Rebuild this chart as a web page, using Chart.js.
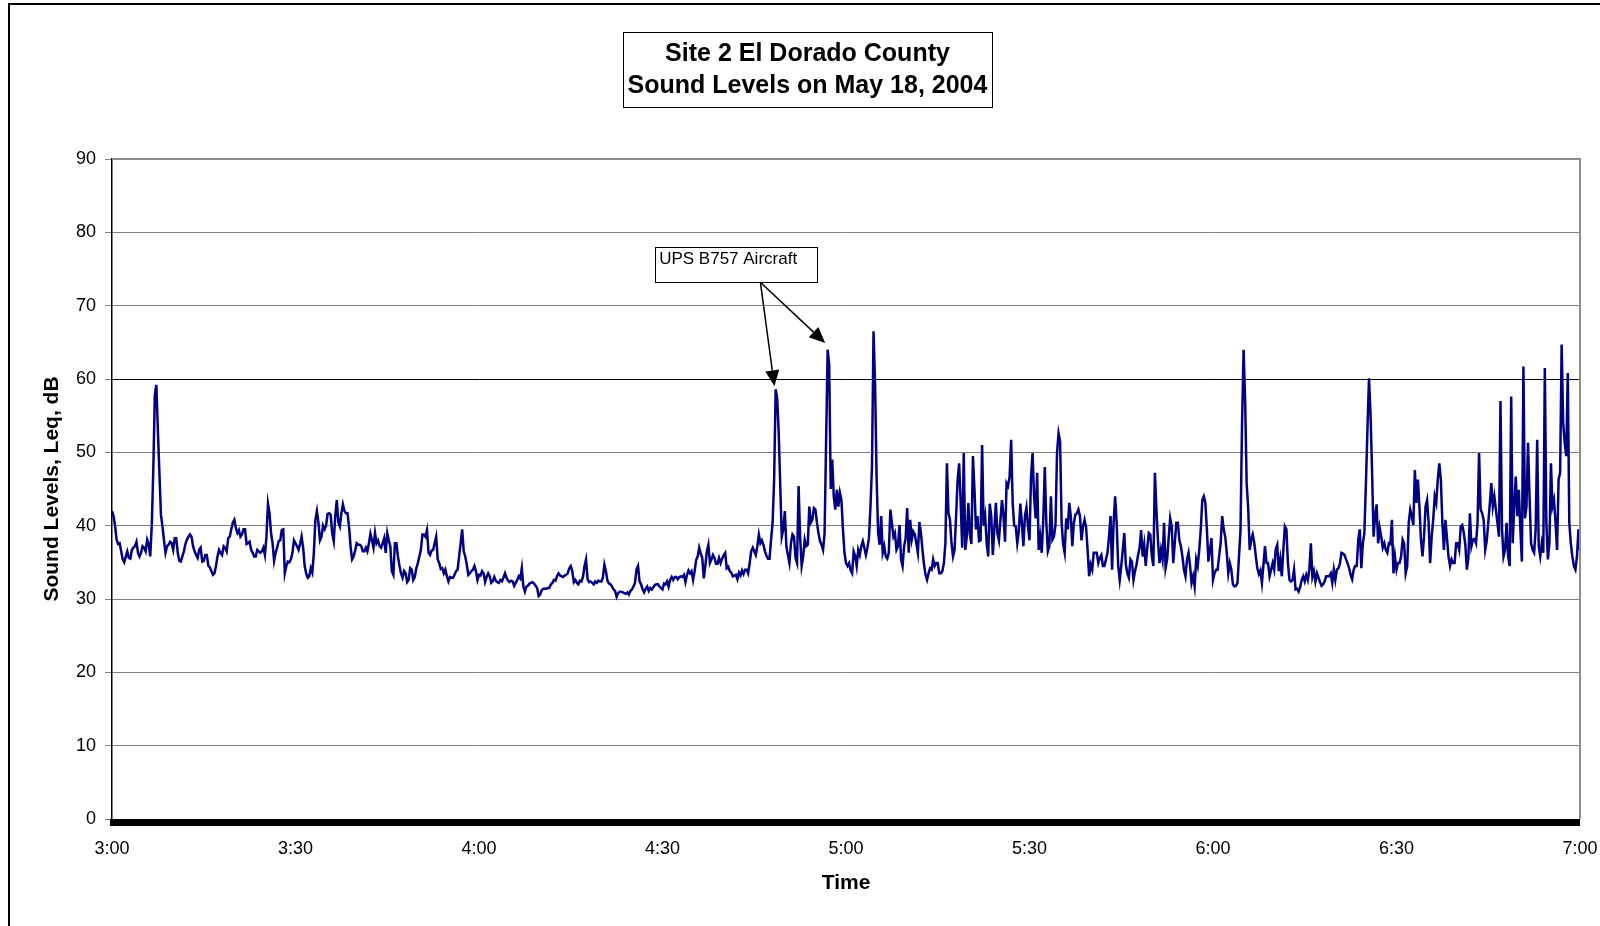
<!DOCTYPE html>
<html>
<head>
<meta charset="utf-8">
<title>Site 2 El Dorado County</title>
<script src="https://cdn.jsdelivr.net/npm/chart.js@4.4.1/dist/chart.umd.min.js"></script>
<style>
  html, body { margin: 0; padding: 0; background: #fff; }
  canvas { display: block; }
</style>
</head>
<body>
<canvas id="soundChart" width="1600" height="926"></canvas>
<script>
// Leq, dB - one sample every 15 s from 3:00 to 7:00, four per row (one minute)
const levels = [
  42, 41.3, 40, 38.1,   37.5, 37.6, 36.5, 35.4,   35, 35.8, 36.5, 35.6,   35.5, 36.7, 37, 37.2,
  37.8, 36.3, 35.8, 36.3,   37.2, 37, 36.5, 38.1,   37.5, 35.8, 40, 47.6,   57.8, 59.2, 53, 47.2,
  41.5, 39.9, 38, 36.3,   37.2, 37.4, 37.8, 37.6,   36.7, 38.3, 38.3, 36.3,   35.2, 35.1, 35.8, 36.5,
  37.5, 38.1, 38.5, 38.8,   38.5, 37.2, 36.5, 36,   35.6, 36.7, 37, 35.1,   35.2, 36, 36, 34.5,
  34.3, 33.8, 33.3, 33.5,   34.5, 35.8, 36.7, 36.3,   36, 37.2, 37, 36.5,   38.3, 38.5, 39.5, 40.4,
  40.8, 39.7, 39, 39.4,   38.5, 38.8, 39.5, 39.5,   37.5, 37.6, 37.8, 36.7,   36.3, 35.8, 35.8, 36.7,
  36.5, 36.3, 36.5, 37,   36, 38.5, 43, 41.7,   39, 37.6, 35.2, 36.3,   37, 37.9, 38, 39.4,
  39.5, 33.5, 34.5, 35.1,   35, 35.4, 36.3, 38,
  // 3:30
  37.6, 37.2, 36.7, 37.5,   38.5, 37, 34.5, 33.5,   32.9, 33.1, 34.2, 33.6,   36.3, 40.8, 42, 40.4,
  38, 38.5, 40, 39.5,   40, 41.6, 41.7, 41.5,   39, 37.9, 41.3, 43.5,   40.5, 39.9, 41.7, 42.9,
  42, 41.7, 41.7, 39.9,   37.2, 35.4, 35.8, 36.6,   37.6, 37.4, 37.4, 37.2,   36.5, 36.5, 37, 36.5,
  37.6, 38.9, 38, 37,   39, 37.6, 38, 37.2,   37, 37.6, 38.3, 36.3,   39, 38, 37.2, 33.8,
  33.3, 37.6, 37.6, 35.8,   34.5, 33.5, 32.9, 33.8,   33.5, 32.3, 32.6, 34.2,   34, 32.6, 33, 34.2,
  34.9, 35.8, 36.7, 38.8,   38.8, 38.5, 39.4, 36.3,   36, 36.6, 36.7, 37.6,   38.5, 35.4, 34.9, 34.1,
  34.2, 33.5, 34, 33.1,   32.4, 33, 32.9, 32.9,   33.3, 33.8, 34, 35.8,   37.6, 39.5, 36.5, 35.8,
  34.7, 33.3, 33.5, 33.8,   34, 34.5, 33.8, 32.6,
  // 4:00
  33.3, 33.2, 33.8, 33.5,   32.3, 33, 33.5, 33.1,   32.2, 32.4, 33, 32.5,   32.3, 32.2, 32.6, 32.4,
  32.9, 33.5, 32.9, 32.5,   32.3, 32.5, 32.4, 31.8,   32.2, 32.6, 33.1, 32.8,   34.2, 31.7, 31, 31.7,
  31.8, 32.1, 32.2, 32.3,   32.1, 31.8, 31.5, 30.4,   30.6, 31.2, 31.4, 31.4,   31.4, 31.5, 31.5, 32,
  32.2, 32.6, 32.5, 33.1,   33.5, 33.2, 33.1, 33,   33.2, 33.3, 33.5, 34.2,   34.5, 33.8, 32.3, 32.6,
  32.2, 32, 32.5, 32.4,   33, 34.5, 35.4, 32.7,   32.3, 32.4, 32.2, 32,   32.4, 32.2, 32.5, 32.4,
  32.4, 32.9, 34.7, 33.8,   32.5, 32.1, 32, 31.7,   31.3, 31.1, 30.3, 30.8,   31, 31, 30.9, 30.8,
  30.7, 30.9, 30.6, 31.1,   31.3, 31.7, 32.2, 34,   34.5, 32.4, 32, 31.3,   30.9, 31.4, 31.7, 31.1,
  31.5, 31.3, 31.6, 31.9,   32, 32, 31.7, 31.5,
  // 4:30
  31.3, 32.1, 32, 32.4,   31.7, 32.6, 33, 32.6,   33, 33, 32.7, 33,   33.1, 33, 33.3, 32.3,
  33.3, 33.9, 33.5, 33.8,   32.6, 33.8, 35.3, 35.8,   37, 36.2, 35.6, 32.8,   34.5, 36.5, 37.4, 34.9,
  35.4, 36, 35.6, 34.8,   34.8, 35.6, 34.9, 35.5,   36, 36.3, 34.2, 34.4,   33.8, 33.6, 33.1, 33.2,
  33.3, 32.7, 33.6, 33.2,   33.9, 33.4, 34, 34,   33.5, 34.9, 36.5, 37,   36.5, 36, 37.2, 38.8,
  37.6, 38, 37.4, 36.5,   35.9, 35.5, 35.5, 38.1,   40.4, 46.3, 58.6, 57.4,   52.6, 45.4, 38.5, 39.5,
  42, 37.2, 36, 34.9,   37.6, 38.8, 38.5, 35.6,   34.9, 45.4, 38.5, 34.5,   35.8, 38.1, 37.2, 37.4,
  42.6, 40.4, 40.8, 42.4,   42.2, 40.4, 39, 37.9,   37.4, 36.7, 39, 51.7,   64, 62, 45, 49,
  44, 42.2, 44.9, 42.6,   44.5, 43.5, 39.5, 36.3,
  // 5:00
  34.9, 34.5, 34.9, 33.9,   33.5, 36.5, 35.9, 34.5,   36.7, 36, 37.2, 37.9,   37, 36, 37, 38.3,
  42.6, 48.1, 66.5, 59.5,   46.7, 39, 37.4, 41.3,   36.3, 37.2, 35.8, 35.5,   36.3, 42.2, 40.4, 38.5,
  39, 36.7, 37.2, 40.1,   35.4, 34.5, 37.2, 38.3,   42.4, 36.3, 40.8, 38.1,   39.2, 38.8, 37.6, 36.3,
  40.5, 39, 36.7, 34.7,   33.3, 32.6, 33.5, 34.2,   34, 35.4, 34.5, 34.9,   34.9, 33.5, 33.5, 33.8,
  34.9, 37.6, 48.5, 41.7,   40.8, 37.6, 35.8, 36.7,   41.3, 46.3, 48.5, 43.1,   37, 49.9, 36.7, 38.5,
  43.1, 38.8, 37.5, 49.5,   45, 39.5, 41.3, 37.9,   38, 51, 40, 41.3,   37.6, 35.8, 43, 41.3,
  36, 39.5, 43.1, 39,   38, 40.8, 43.5, 41.3,   37.8, 45.8, 45.4, 46.7,   51.7, 43.1, 40, 39.9,
  37.6, 39.2, 43, 40.4,   37.2, 41.3, 42.5, 39.9,
  // 5:30
  38, 46.7, 49.9, 44,   41, 47.2, 36.7, 38.5,   36.3, 40.8, 48, 40.4,   36.5, 37.2, 44, 38.1,
  38.5, 40.1, 49.9, 52.6,   51.5, 40.4, 37.5, 36.3,   41, 39.5, 43.1, 41.3,   37.2, 40.4, 41.5, 41.7,
  42.2, 41.3, 38, 39.9,   40.8, 39.8, 36.7, 33.1,   34.7, 34, 36.3, 36.3,   36.3, 34.9, 35.6, 36,
  34.5, 34.5, 35.4, 36.3,   38.5, 41.3, 34, 40.4,   44, 40.4, 34.5, 32.6,   34.5, 36.7, 39, 34.7,
  33.5, 32.9, 35.4, 35.1,   32.6, 33.8, 34.7, 36,   37, 39.4, 35.8, 37.4,   34.5, 37, 39, 38.8,
  35.8, 34.5, 47.2, 42.2,   38, 34.9, 36.7, 35.4,   40.4, 34.2, 35.4, 38.3,   41, 39.9, 34.9, 37.6,
  40.4, 40.4, 38, 37.2,   35.8, 34, 33.1, 35.4,   36.3, 34.5, 32.2, 33.1,   31.7, 35.4, 34.5, 36.7,
  39.5, 43.5, 44, 43.1,   39.5, 35.1, 36.7, 38.3,
  // 6:00
  32.6, 33.5, 34, 34,   35.8, 37.6, 41.3, 39.5,   38.5, 36.3, 33.5, 34.9,   34, 32, 31.7, 31.8,
  32.2, 35.8, 39.5, 54,   64, 57.2, 45.8, 42.4,   36.7, 38.1, 38.8, 37.6,   35.8, 34.2, 33.4, 33.9,
  32.2, 34.7, 37.2, 34.9,   34.9, 33.1, 34, 34.9,   34, 36.8, 37.4, 33.8,   35.4, 33.1, 36.7, 39.9,
  39.5, 34.9, 32.6, 32.4,   32.6, 34, 31.3, 31.4,   31, 31.6, 32.6, 33.1,   32.4, 33.3, 32.6, 34,
  37.6, 33, 33.8, 32.4,   33.5, 32.9, 32.3, 31.8,   32, 32.4, 33.1, 33.1,   33.1, 33.5, 32.2, 34,
  32.6, 34, 34.2, 34.8,   36.3, 36.2, 36, 35.4,   34.9, 34.2, 33.3, 32.7,   34, 34.5, 34.5, 38.1,
  39.5, 34.2, 37.6, 39,   45.8, 53.1, 60.1, 55.4,   47.6, 38.5, 41.3, 42.9,   37.6, 39.7, 38.5, 37,
  37.6, 36.7, 36.3, 37.6,   37.5, 40.8, 33.5, 35.8,
  // 6:30
  34, 34.9, 34.9, 35.8,   38.1, 37.6, 33.5, 34.5,   40.4, 42.2, 41.3, 40.1,   47.6, 43.1, 46.3, 42.6,
  38.1, 35.8, 38.5, 42.6,   43.5, 40.4, 34.9, 38.5,   40.8, 44, 43.1, 46.3,   48.5, 46.3, 40.4, 36.7,
  40.8, 38.3, 35.8, 34.5,   35.4, 34.9, 34.9, 37.6,   37.6, 36.7, 39.9, 40.1,   39, 37.4, 34, 35.6,
  41.7, 37.2, 38.1, 38.2,   37.6, 40.4, 49.9, 42.2,   41.7, 40.8, 36.7, 37.9,   40.4, 42.9, 45.8, 42.6,
  44, 42.2, 40.4, 38.5,   57, 39.5, 35.8, 36.7,   40.4, 35.8, 34.5, 57.6,   37.6, 42.6, 46.7, 41.3,
  44.9, 39.5, 35.1, 61.7,   41, 42.6, 51.3, 44,   37.6, 36.7, 36.3, 39.5,   51.7, 37.2, 35.8, 37.6,
  36.3, 61.5, 40.4, 35.4,   37.6, 48.5, 42.6, 43.5,   40.4, 36.7, 46.3, 47.2,   64.7, 54, 51.3, 49.5,
  60.8, 40.4, 37.6, 35.8,   34.5, 34, 35.8, 39.5,
  // 7:00
  36.7
];
const sampleMinutes = 0.25;
const timeLabels = ['3:00', '3:30', '4:00', '4:30', '5:00', '5:30', '6:00', '6:30', '7:00'];
const titleLines = ['Site 2 El Dorado County', 'Sound Levels on May 18, 2004'];

// callout: box corners in (minutes after 3:00, dB), arrows from the box to the two flyovers
const noteText = 'UPS B757 Aircraft';
const noteBox = { from: 88.8, to: 115.3, top: 78, bottom: 73.2 };
const noteArrowStart = [106, 73.2];
const noteTargets = [[108.3, 59], [116.6, 64.9]];

const FONT = '"Liberation Sans", Arial, sans-serif';

function arrow(ctx, x0, y0, x1, y1) {
  const ang = Math.atan2(y1 - y0, x1 - x0);
  const len = 16, half = 7;
  const bx = x1 - len * Math.cos(ang), by = y1 - len * Math.sin(ang);
  ctx.beginPath();
  ctx.moveTo(x0, y0);
  ctx.lineTo(bx, by);
  ctx.stroke();
  ctx.beginPath();
  ctx.moveTo(x1, y1);
  ctx.lineTo(bx + half * Math.sin(ang), by - half * Math.cos(ang));
  ctx.lineTo(bx - half * Math.sin(ang), by + half * Math.cos(ang));
  ctx.closePath();
  ctx.fill();
}

const decor = {
  id: 'decor',
  beforeDraw(chart) {
    const ctx = chart.ctx;
    ctx.save();
    ctx.fillStyle = '#fff';
    ctx.fillRect(0, 0, chart.width, chart.height);

    // outer chart frame, only left and top edges fall inside the page
    ctx.strokeStyle = '#000';
    ctx.lineWidth = 2;
    ctx.beginPath();
    ctx.moveTo(9, chart.height);
    ctx.lineTo(9, 4);
    ctx.lineTo(chart.width, 4);
    ctx.stroke();

    // boxed title
    ctx.font = 'bold 25px ' + FONT;
    const w = Math.max(...titleLines.map(t => ctx.measureText(t).width)) + 9;
    const cx = 807.5;
    ctx.lineWidth = 1;
    ctx.strokeRect(Math.round(cx - w / 2) + 0.5, 32.5, Math.round(w), 75);
    ctx.fillStyle = '#000';
    ctx.textAlign = 'center';
    ctx.textBaseline = 'middle';
    titleLines.forEach((t, i) => ctx.fillText(t, cx, 54 + i * 32));
    ctx.restore();
  },
  afterDraw(chart) {
    const { ctx, chartArea: a, scales: { x, y } } = chart;
    ctx.save();

    // plot area border, top and right
    ctx.strokeStyle = '#8c8c8c';
    ctx.lineWidth = 2;
    ctx.beginPath();
    ctx.moveTo(a.left, a.top);
    ctx.lineTo(a.right, a.top);
    ctx.lineTo(a.right, a.bottom);
    ctx.stroke();

    // heavy base line along 0 dB
    ctx.fillStyle = '#000';
    ctx.fillRect(a.left - 2, a.bottom, a.right - a.left + 2, 7);

    // callout box
    const l = x.getPixelForValue(noteBox.from), r = x.getPixelForValue(noteBox.to);
    const t = y.getPixelForValue(noteBox.top), b = y.getPixelForValue(noteBox.bottom);
    ctx.fillStyle = '#fff';
    ctx.fillRect(l, t, r - l, b - t);
    ctx.strokeStyle = '#000';
    ctx.lineWidth = 1;
    ctx.strokeRect(Math.round(l) + 0.5, Math.round(t) + 0.5, Math.round(r - l), Math.round(b - t));
    ctx.fillStyle = '#000';
    ctx.font = '17px ' + FONT;
    ctx.textAlign = 'left';
    ctx.textBaseline = 'middle';
    ctx.fillText(noteText, l + 4, t + 12);

    ctx.lineWidth = 1.5;
    const sx = x.getPixelForValue(noteArrowStart[0]), sy = y.getPixelForValue(noteArrowStart[1]);
    noteTargets.forEach(([m, db]) => {
      arrow(ctx, sx, sy, x.getPixelForValue(m), y.getPixelForValue(db));
    });
    ctx.restore();
  }
};

const points = levels.map((v, i) => ({ x: i * sampleMinutes, y: v }));

new Chart(document.getElementById('soundChart'), {
  type: 'line',
  data: {
    datasets: [{
      label: 'Leq',
      data: points,
      borderColor: '#000080',
      borderWidth: 2.5,
      pointRadius: 0,
      tension: 0,
      fill: false
    }]
  },
  options: {
    responsive: false,
    animation: false,
    devicePixelRatio: 1,
    layout: { padding: { left: 0, top: 159, right: 20, bottom: 0 } },
    plugins: {
      legend: { display: false },
      tooltip: { enabled: false }
    },
    scales: {
      x: {
        type: 'linear',
        min: 0,
        max: 240,
        afterFit: s => {
          s.height = 107;
          s.paddingLeft = 0;
          s.paddingRight = 0;
        },
        grid: { display: false, drawTicks: false },
        border: { display: false },
        ticks: {
          stepSize: 30,
          padding: 19,
          color: '#000',
          font: { family: FONT, size: 18 },
          maxRotation: 0,
          callback: v => timeLabels[v / 30]
        },
        title: {
          display: true,
          text: 'Time',
          color: '#000',
          font: { family: FONT, size: 21, weight: 'bold' },
          padding: { top: 0, bottom: 30 }
        }
      },
      y: {
        min: 0,
        max: 90,
        afterFit: s => { s.width = 112; },
        grid: {
          color: c => (c.tick && c.tick.value === 60 ? '#000' : '#808080'),
          lineWidth: 1,
          tickLength: 7,
          tickColor: '#808080'
        },
        border: { display: true, color: '#000', width: 1.5 },
        ticks: {
          stepSize: 10,
          padding: 9,
          color: '#000',
          font: { family: FONT, size: 18 }
        },
        title: {
          display: true,
          text: 'Sound Levels, Leq, dB',
          color: '#000',
          font: { family: FONT, size: 21, weight: 'bold' },
          padding: { top: 40, bottom: 0 }
        }
      }
    }
  },
  plugins: [decor]
});
</script>
</body>
</html>
